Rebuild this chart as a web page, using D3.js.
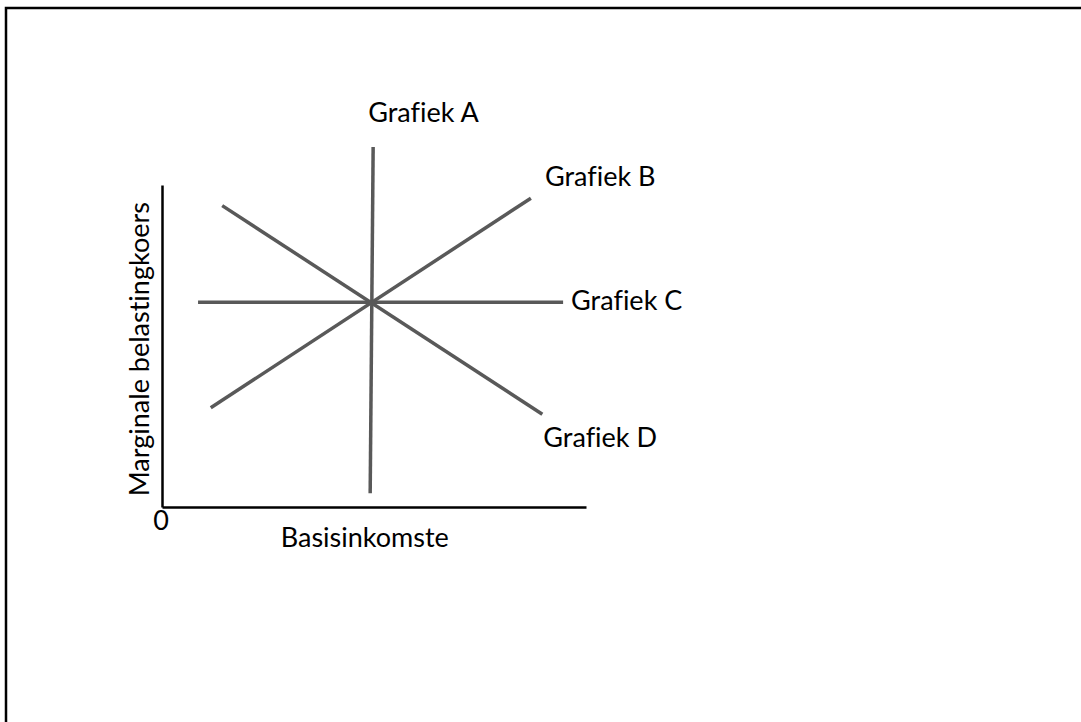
<!DOCTYPE html>
<html>
<head>
<meta charset="utf-8">
<script src="https://cdn.jsdelivr.net/npm/d3@7"></script>
<style>
  body { margin: 0; background: #fff; }
  text { font-family: Lato, "Open Sans", sans-serif; fill: #000; font-variant-ligatures: none; }
</style>
</head>
<body>
<div class="wrapper"></div>
<script>
const WIDTH = 1081
const HEIGHT = 722

// line ends in chart units (0..100 on both axes)
var graphNames = ['Grafiek A', 'Grafiek B', 'Grafiek C', 'Grafiek D']
var startX = [49.1, 11.5, 8.5, 14.2]
var startY = [4.3, 30.8, 63.6, 93.6]
var endX = [49.8, 87.0, 94.6, 89.7]
var endY = [111.8, 95.9, 63.6, 28.8]

var xLabel = 'Basisinkomste'
var yLabel = 'Marginale belastingkoers'
var originLabel = '0'

const origin = {x: 162, y: 507}
const axisLen = {x: 424, y: 322}

var svg = d3.select(".wrapper")
    .append("svg")
    .attr("width", WIDTH)
    .attr("height", HEIGHT)

// frame (only top and left are on the page)
svg.append("rect")
    .attr("x", 6)
    .attr("y", 8)
    .attr("width", WIDTH + 50)
    .attr("height", HEIGHT + 50)
    .attr("fill", "none")
    .attr("stroke", "#000")
    .attr("stroke-width", 2.5)

var x = d3.scaleLinear([0, 100], [origin.x, origin.x + axisLen.x])
var y = d3.scaleLinear([0, 100], [origin.y, origin.y - axisLen.y])

svg.append("g")
    .attr("transform", `translate(0,${origin.y})`)
    .call(d3.axisBottom(x).tickValues([]).tickSizeOuter(0))
svg.append("g")
    .attr("transform", `translate(${origin.x},0)`)
    .call(d3.axisLeft(y).tickValues([]).tickSizeOuter(0))
svg.selectAll(".domain")
    .attr("stroke", "#000")
    .attr("stroke-width", 2.5)

var lines = graphNames.map((d, i) => ({
    name: d,
    pts: [[startX[i], startY[i]], [endX[i], endY[i]]]
}))

var line = d3.line().x(d => x(d[0])).y(d => y(d[1]))

svg.append("g")
    .selectAll("path")
    .data(lines)
    .join("path")
    .attr("d", d => line(d.pts))
    .attr("fill", "none")
    .attr("stroke", "#595959")
    .attr("stroke-width", 3.5)

// label offsets from the end of each line
var offsets = {
    'Grafiek A': [-5, -25],
    'Grafiek B': [14, -12],
    'Grafiek C': [8, 8],
    'Grafiek D': [1, 33]
}

svg.append("g")
    .selectAll("text")
    .data(lines)
    .join("text")
    .attr("x", d => x(d.pts[1][0]) + offsets[d.name][0])
    .attr("y", d => y(d.pts[1][1]) + offsets[d.name][1])
    .style("font-size", "27px")
    .text(d => d.name)

svg.append("text")
    .attr("x", x(0) - 1)
    .attr("y", origin.y + 23)
    .attr("text-anchor", "middle")
    .style("font-size", "27px")
    .text(originLabel)

svg.append("text")
    .attr("x", x(28))
    .attr("y", origin.y + 40)
    .style("font-size", "27px")
    .text(xLabel)

svg.append("text")
    .attr("transform", `translate(${origin.x - 13},${y(49)}) rotate(-90)`)
    .attr("text-anchor", "middle")
    .style("font-size", "27px")
    .text(yLabel)
</script>
</body>
</html>
